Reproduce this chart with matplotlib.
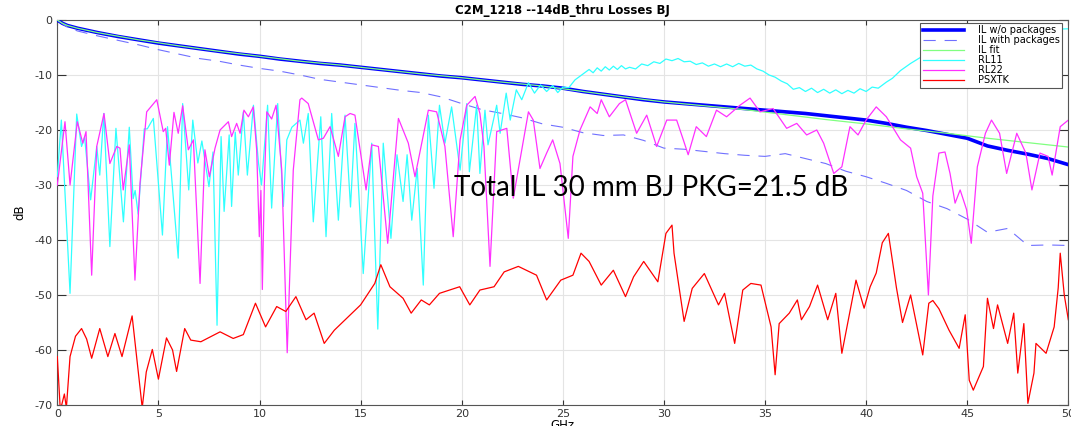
import matplotlib
matplotlib.use("Agg")
import matplotlib.pyplot as plt

# IL without packages (thick blue)
il_f = [0, 0.25, 0.5, 1, 2, 3, 4, 5, 6, 7, 8, 9, 10, 11, 12, 13, 14, 15, 16, 17, 18, 19, 20,
        21, 22, 23, 24, 25, 26, 27, 28, 29, 30, 31, 32, 33, 34, 35, 36, 37, 38, 39, 40,
        41, 42, 43, 44, 45, 46, 47, 48, 49, 50]
il_db = [0, -0.6, -1.0, -1.5, -2.3, -3.0, -3.6, -4.2, -4.7, -5.2, -5.7, -6.2, -6.6, -7.1, -7.5,
         -7.9, -8.2, -8.6, -9.0, -9.4, -9.8, -10.2, -10.5, -10.9, -11.3, -11.7, -12.0, -12.4,
         -13.0, -13.5, -14.0, -14.5, -14.9, -15.2, -15.5, -15.8, -16.1, -16.4, -16.7, -17.0,
         -17.4, -17.8, -18.2, -18.8, -19.5, -20.1, -20.8, -21.5, -22.9, -23.7, -24.4, -25.2, -26.3]

# IL with packages (dashed)
ilp_f = [0, 0.5, 1, 2, 3, 4, 5, 6, 7, 8, 9, 10, 11, 12, 13, 14, 15, 16, 17, 18, 19, 20, 21,
         22, 23, 24, 25, 26, 27, 28, 29, 30, 31, 32, 33, 34, 35, 36, 37, 38, 39, 40, 41, 42,
         43, 44, 45, 46, 47, 48, 49, 50]
ilp_db = [0, -1.3, -2.0, -2.9, -3.7, -4.5, -5.4, -6.2, -7.0, -7.5, -8.2, -8.8, -9.3, -10.0,
          -10.8, -11.3, -11.8, -12.3, -12.8, -13.2, -14.0, -15.2, -16.3, -17.0, -17.8, -18.9,
          -19.5, -20.5, -21.0, -20.9, -21.9, -23.3, -23.5, -23.9, -24.3, -24.6, -24.8, -24.3,
          -25.2, -26.1, -27.5, -28.5, -29.7, -31.0, -33.0, -34.3, -36.2, -38.6, -37.9, -41.0,
          -40.9, -41.0]

# IL fit (green)
fit_f = [0, 0.25, 0.5, 1, 2, 4, 6, 8, 10, 12, 14, 16, 18, 20, 22, 24, 26, 28, 30, 32, 34,
         36, 38, 40, 42, 44, 46, 48, 50]
fit_db = [0, -0.6, -1.0, -1.5, -2.3, -3.6, -4.7, -5.7, -6.6, -7.5, -8.2, -9.0, -9.8, -10.5,
          -11.3, -12.0, -13.0, -14.0, -14.9, -15.6, -16.3, -17.2, -18.1, -18.9, -19.8, -20.6,
          -21.5, -22.3, -23.1]

# RL11 (cyan)
rl11_f = [0.0, 0.2, 0.63, 0.96, 1.2, 1.35, 1.65, 1.95, 2.1, 2.3, 2.6, 2.9, 3.27, 3.56, 3.75,
          3.85, 4.0, 4.3, 4.45, 4.75, 5.2, 5.45, 5.98, 6.2, 6.5, 6.7, 6.95, 7.15, 7.5, 7.7,
          7.9, 8.1, 8.25, 8.5, 8.62, 8.8, 8.95, 9.2, 9.4, 9.7, 9.95, 10.1, 10.4, 10.6, 10.9,
          11.18, 11.35, 11.6, 12.0, 12.17, 12.41, 12.66, 13.03, 13.29, 13.57, 13.9, 14.23,
          14.5, 14.72, 15.13, 15.55, 15.85, 16.12, 16.5, 16.8, 17.1, 17.3, 17.53, 17.8, 18.1,
          18.35, 18.63, 18.9, 19.17, 19.5, 19.92, 20.25, 20.38, 20.74, 20.9, 21.15, 21.3,
          21.73, 21.9, 22.2, 22.4, 22.7, 22.97, 23.3, 23.6, 23.9, 24.2, 24.5, 24.75, 25.0,
          25.3, 25.6, 26.0, 26.3, 26.5, 26.7, 26.9, 27.1, 27.3, 27.5, 27.7, 27.9, 28.1, 28.3,
          28.6, 28.9, 29.2, 29.5, 29.8, 30.1, 30.4, 30.7, 31.0, 31.3, 31.6, 31.9, 32.2, 32.5,
          32.8, 33.1, 33.4, 33.7, 34.0, 34.3, 34.6, 34.9, 35.2, 35.5, 35.8, 36.1, 36.4, 36.7,
          37.0, 37.3, 37.6, 37.9, 38.2, 38.5, 38.8, 39.1, 39.4, 39.7, 40.0, 40.3, 40.6, 41.0,
          41.3, 41.7, 42.2, 42.6, 43.5, 45.0, 47.0, 48.5, 50.0]
rl11_db = [-28.5, -18.2, -49.7, -17.1, -23.0, -21.3, -32.7, -23.0, -28.2, -17.0, -41.2, -19.7,
           -36.7, -19.5, -32.5, -31.0, -35.3, -19.8, -19.8, -17.9, -39.1, -19.4, -43.3, -15.2,
           -30.9, -18.2, -26.0, -22.0, -30.3, -24.0, -55.5, -21.2, -34.8, -20.9, -33.9, -20.4,
           -28.2, -16.7, -28.2, -15.5, -26.0, -30.0, -15.5, -34.2, -15.2, -33.9, -21.8, -19.5,
           -18.2, -22.4, -17.0, -36.7, -17.6, -39.4, -17.0, -36.4, -17.3, -34.0, -18.8, -46.1,
           -22.4, -56.2, -22.4, -39.7, -24.5, -33.0, -24.5, -36.4, -27.0, -48.2, -17.3, -30.6,
           -15.5, -22.4, -15.8, -27.3, -15.2, -27.6, -15.5, -27.9, -16.4, -22.7, -15.5, -20.6,
           -13.3, -18.2, -12.7, -14.5, -11.4, -13.3, -11.8, -13.0, -11.9, -13.2, -12.2, -12.3,
           -10.9, -9.8, -9.0, -9.6, -8.7, -9.3, -8.5, -9.1, -8.4, -9.0, -8.3, -8.9, -8.6, -8.9,
           -8.0, -8.3, -7.6, -7.9, -7.1, -7.4, -7.0, -7.6, -7.5, -8.1, -7.8, -8.4, -8.0, -8.5,
           -8.0, -8.5, -7.9, -8.4, -8.2, -8.9, -9.3, -10.0, -10.4, -11.1, -11.6, -12.6, -12.3,
           -13.0, -12.4, -13.2, -12.6, -13.3, -12.7, -13.4, -12.8, -13.3, -12.5, -13.0, -12.2,
           -12.4, -11.3, -10.6, -9.2, -7.9, -7.0, -5.0, -3.0, -2.0, -1.8, -1.6]

# RL22 (magenta)
rl22_f = [0.0, 0.38, 0.63, 0.99, 1.26, 1.42, 1.7, 1.95, 2.31, 2.6, 2.94, 3.1, 3.26, 3.56,
          3.84, 4.09, 4.42, 4.92, 5.24, 5.36, 5.54, 5.77, 5.98, 6.2, 6.48, 6.73, 7.06, 7.3,
          7.52, 7.8, 8.05, 8.46, 8.62, 8.87, 9.04, 9.23, 9.45, 9.69, 9.86, 9.99, 10.07, 10.14,
          10.24, 10.36, 10.6, 10.82, 11.1, 11.37, 11.67, 12.0, 12.09, 12.41, 12.91, 13.16,
          13.49, 13.9, 14.23, 14.48, 14.72, 15.27, 15.55, 15.88, 16.34, 16.87, 17.36, 17.69,
          18.35, 18.76, 19.17, 19.58, 19.92, 20.25, 20.66, 20.9, 21.1, 21.4, 21.73, 22.23,
          22.55, 23.3, 23.54, 23.87, 24.2, 24.5, 24.86, 25.27, 25.5, 25.85, 26.35, 26.7, 26.9,
          27.3, 27.8, 28.1, 28.65, 29.15, 29.64, 30.14, 30.63, 30.96, 31.2, 31.6, 32.1, 32.6,
          33.1, 33.76, 34.26, 34.75, 35.4, 36.07, 36.57, 37.06, 37.56, 37.9, 38.4, 38.8, 39.2,
          39.6, 40.0, 40.5, 41.0, 41.7, 42.2, 42.5, 42.8, 43.08, 43.3, 43.6, 43.9, 44.15,
          44.4, 44.65, 44.97, 45.2, 45.5, 45.9, 46.2, 46.6, 46.95, 47.45, 47.9, 48.2, 48.6,
          49.0, 49.2, 49.6, 50.0]
rl22_db = [-30.0, -18.5, -30.0, -18.5, -22.4, -20.3, -46.4, -23.0, -17.0, -26.1, -23.0, -23.3,
           -30.9, -22.7, -47.3, -29.7, -16.7, -14.5, -20.3, -19.7, -26.4, -16.8, -20.6, -15.6,
           -23.6, -21.8, -47.9, -23.6, -28.5, -23.3, -20.0, -18.5, -21.2, -18.8, -20.6, -16.4,
           -17.6, -15.8, -23.6, -39.4, -31.0, -49.0, -29.7, -16.7, -18.0, -15.5, -27.3, -60.5,
           -27.3, -14.5, -14.2, -15.2, -21.8, -21.5, -19.4, -24.8, -17.6, -17.0, -17.3, -30.9,
           -22.7, -23.0, -40.6, -17.9, -22.4, -28.5, -16.4, -16.7, -23.0, -39.4, -21.8, -15.5,
           -13.9, -17.0, -23.0, -44.8, -20.3, -19.7, -32.4, -16.7, -18.2, -27.0, -24.2, -21.8,
           -26.1, -39.7, -24.8, -20.0, -15.8, -17.0, -14.5, -17.6, -15.2, -14.5, -20.6, -17.3,
           -23.0, -18.2, -18.2, -21.8, -24.5, -19.4, -21.2, -16.4, -17.6, -15.5, -14.2, -16.7,
           -16.1, -19.7, -18.8, -20.9, -20.0, -22.4, -27.9, -26.7, -19.4, -20.9, -18.2, -15.8,
           -17.6, -21.8, -23.3, -28.5, -31.5, -50.0, -32.0, -24.2, -24.0, -27.9, -33.3, -30.9,
           -34.5, -40.6, -26.7, -20.6, -18.2, -20.6, -27.9, -20.6, -24.2, -30.9, -24.2, -24.8,
           -28.2, -19.4, -18.2]

# PSXTK (red)
xtk_f = [0.0, 0.15, 0.35, 0.45, 0.63, 0.9, 1.2, 1.45, 1.7, 2.1, 2.5, 2.85, 3.2, 3.7, 4.2,
         4.4, 4.7, 5.0, 5.4, 5.7, 5.9, 6.3, 6.6, 7.1, 8.05, 8.7, 9.2, 9.8, 10.3, 10.85, 11.3,
         11.8, 12.3, 12.7, 13.2, 13.7, 15.0, 15.7, 16.0, 16.45, 17.1, 17.5, 18.0, 18.4, 18.9,
         19.9, 20.4, 20.9, 21.6, 22.1, 22.8, 23.7, 24.2, 24.9, 25.5, 25.9, 26.3, 26.9, 27.5,
         28.1, 28.5, 29.0, 29.7, 30.1, 30.4, 30.5, 31.0, 31.4, 32.0, 32.7, 33.0, 33.5, 33.9,
         34.3, 34.8, 35.3, 35.5, 35.7, 36.2, 36.6, 36.8, 37.2, 37.6, 38.1, 38.5, 38.8, 39.5,
         39.9, 40.2, 40.5, 40.8, 41.1, 41.5, 41.8, 42.2, 42.8, 43.1, 43.3, 43.6, 44.1, 44.6,
         44.9, 45.1, 45.3, 45.8, 46.0, 46.3, 46.5, 47.0, 47.3, 47.5, 47.8, 48.0, 48.3, 48.4,
         48.9, 49.3, 49.5, 49.6, 49.8, 50.0]
xtk_db = [-61.2, -71.0, -68.0, -70.5, -61.2, -57.5, -56.1, -58.0, -61.5, -56.1, -61.2, -57.0,
          -61.2, -53.8, -70.5, -64.0, -59.9, -65.3, -57.8, -60.0, -63.9, -56.1, -58.2, -58.5,
          -56.7, -57.9, -57.2, -51.5, -55.8, -52.1, -53.0, -50.3, -54.5, -53.3, -58.8, -56.4,
          -51.8, -47.9, -44.5, -48.5, -50.6, -53.3, -50.9, -51.8, -49.7, -48.5, -51.8, -49.1,
          -48.5, -45.8, -44.8, -46.4, -50.9, -47.3, -46.4, -42.4, -43.9, -48.2, -45.5, -50.3,
          -46.7, -43.9, -47.6, -38.8, -37.3, -42.4, -54.8, -48.8, -46.1, -51.8, -49.7, -58.8,
          -49.1, -47.9, -48.2, -55.8, -64.5, -55.2, -53.3, -50.9, -54.5, -52.1, -48.2, -54.5,
          -49.7, -60.6, -47.3, -52.4, -48.5, -46.0, -40.5, -38.8, -48.7, -55.0, -50.0, -60.9,
          -51.5, -51.0, -52.5, -56.4, -59.7, -53.6, -65.5, -67.3, -63.0, -50.6, -56.1, -51.8,
          -58.8, -53.3, -64.2, -55.2, -69.7, -64.2, -58.8, -60.6, -55.8, -48.7, -42.4, -50.0,
          -54.5]

x_ticks = list(range(0, 51, 5))
y_ticks = list(range(-70, 1, 10))

plt.rcParams['font.family'] = ['DejaVu Sans']
plt.rcParams['axes.unicode_minus'] = False

fig = plt.figure(figsize=(10.71, 4.26), dpi=100)
ax = fig.add_axes([0.0535, 0.0493, 0.944, 0.9038])

ax.plot(il_f, il_db, color='#0000ff', lw=2.6, label='IL w/o packages', zorder=3)
ax.plot(ilp_f, ilp_db, color='#7070ff', lw=0.8, ls=(0, (11, 8)), label='IL with packages', zorder=3)
ax.plot(fit_f, fit_db, color='#80ff80', lw=0.9, label='IL fit', zorder=3)
ax.plot(rl11_f, rl11_db, color='#30ffff', lw=0.9, label='RL11', zorder=3)
ax.plot(rl22_f, rl22_db, color='#ff30ff', lw=0.9, label='RL22', zorder=3)
ax.plot(xtk_f, xtk_db, color='#ff0000', lw=0.9, label='PSXTK', zorder=3)

ax.set_xlim(0, 50)
ax.set_ylim(-70, 0)
ax.set_xticks(x_ticks)
ax.set_yticks(y_ticks)
ax.grid(True, color='#e4e4e4', lw=0.8, zorder=0)
ax.tick_params(direction='in', labelsize=8, colors='#333333', top=True, right=True,
               labeltop=False, labelright=False)
ax.tick_params(axis='y', length=6.5)
ax.tick_params(axis='x', length=3.5, pad=3)
for s in ax.spines.values():
    s.set_color('#555555')
    s.set_linewidth(0.8)

ax.set_title('C2M_1218 --14dB_thru Losses BJ', fontsize=8.5, fontweight='bold', pad=4)
ax.set_xlabel('GHz', fontsize=8.5, labelpad=0)
ax.set_ylabel('dB', fontsize=8.5, labelpad=6)

ax.text(19.6, -30.5, 'Total IL 30 mm BJ PKG=21.5 dB', fontsize=20, family='Lato',
        va='center', ha='left', zorder=5)

leg = ax.legend(loc='upper right', bbox_to_anchor=(0.994, 0.992), borderaxespad=0,
                fontsize=7, handlelength=4.3, labelspacing=0.0, borderpad=0.25,
                handletextpad=1.4, fancybox=False, framealpha=1, edgecolor='#555555')
leg.get_frame().set_linewidth(0.8)
leg.set_zorder(10)

fig.savefig('out.png', dpi=100)
